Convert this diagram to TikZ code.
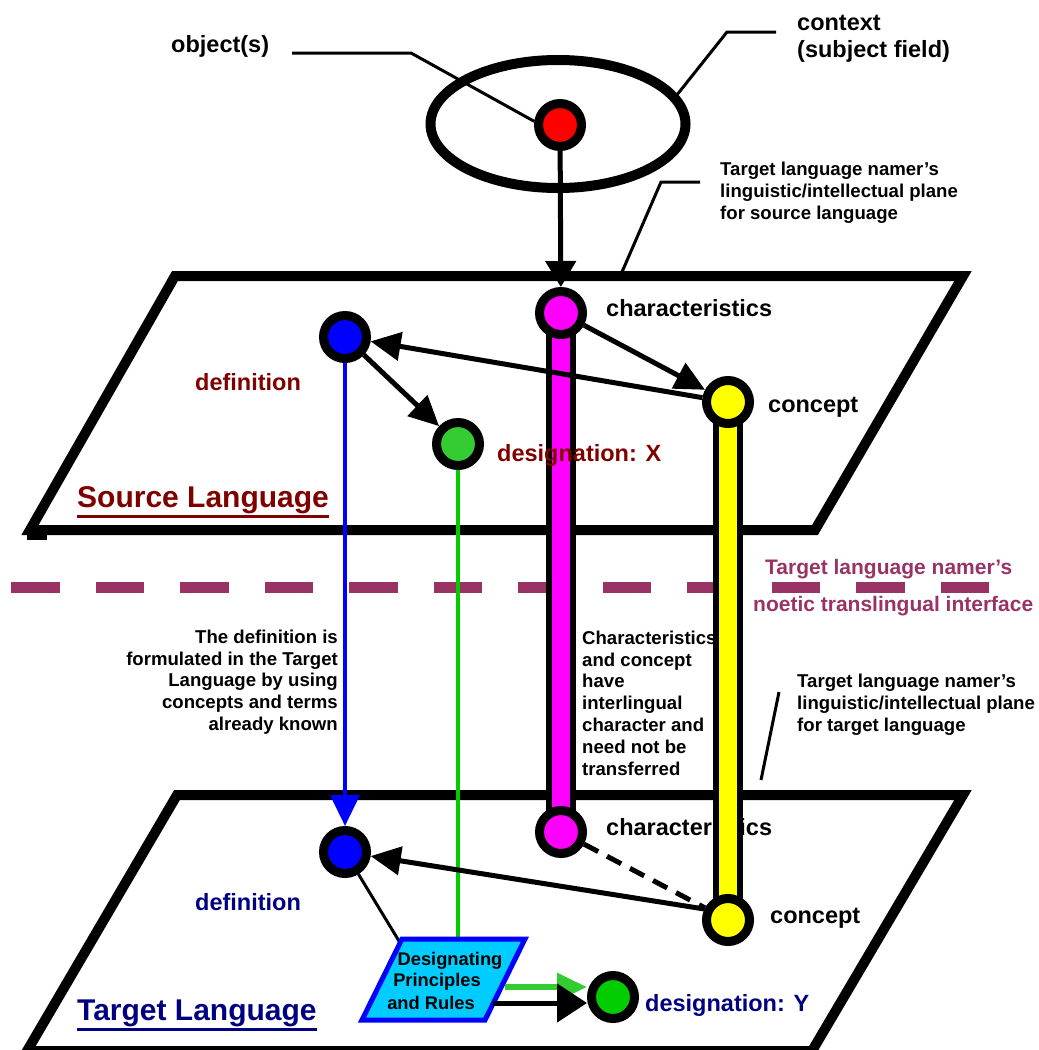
\documentclass[tikz,border=0pt]{standalone}
\usepackage{fontspec}
\setmainfont{Liberation Sans}
\usetikzlibrary{arrows.meta,shapes.geometric}
\pgfdeclarelayer{planes}
\pgfdeclarelayer{bars}
\pgfsetlayers{planes,bars,main}
\definecolor{dkred}{HTML}{800000}
\definecolor{navyc}{HTML}{000080}
\definecolor{purp}{HTML}{993366}
\definecolor{mag}{HTML}{FF00FF}
\definecolor{yel}{HTML}{FFFF00}
\definecolor{gnode}{HTML}{33CC33}
\definecolor{gline}{HTML}{00CC00}
\definecolor{cyanb}{HTML}{00CCFF}
\begin{document}
\begin{tikzpicture}[x=1pt,y=-1pt,
  dot/.style={circle, draw=black, line width=9pt, fill=#1, minimum size=43pt, inner sep=0pt, outer sep=4.5pt},
  plane/.style={draw=black, line width=10pt, line join=miter},
  lbl/.style={inner sep=0pt, font=\bfseries\fontsize{23.5}{28}\selectfont},
  biglbl/.style={inner sep=0pt, font=\bfseries\fontsize{30}{34}\selectfont},
  small/.style={inner sep=0pt, font=\bfseries\fontsize{18.6}{21.8}\selectfont},
  purplbl/.style={inner sep=0pt, text=purp, font=\bfseries\fontsize{21}{25}\selectfont},
  arr/.style={line width=5pt, -{Triangle[length=30pt,width=28pt]}},
  leader/.style={line width=3pt}
]
\useasboundingbox (0,0) rectangle (1039,1050);

% ---------- planes and labels ----------
\begin{pgfonlayer}{planes}
\draw[plane] (175,276) -- (963,276) -- (815,530) -- (30,530) -- cycle;
\fill (27,528) rectangle (47,540);
\draw[plane] (177,795) -- (963,795) -- (812,1051) -- (27,1051) -- cycle;

\node[lbl, anchor=west] (objl) at (171,46) {object(s)};
\node[lbl, anchor=west, align=left, font=\bfseries\fontsize{23.5}{27}\selectfont] (ctxl) at (797,39) {context\\(subject field)};
\node[small, anchor=west, align=left] (spl) at (720,193) {Target language namer’s\\linguistic/intellectual plane\\for source language};
\node[lbl, anchor=west] (chsl) at (606,308) {characteristics};
\node[lbl, anchor=west] (cpsl) at (768,407) {concept};
\node[lbl, anchor=west, text=dkred] (dfsl) at (195,382) {definition};
\node[biglbl, anchor=west, text=dkred] (srcl) at (77,500) {Source Language};
\draw[dkred, line width=3pt] ([yshift=-3pt]srcl.south west) -- ([yshift=-3pt]srcl.south east);

\node[purplbl, anchor=west] (tl1) at (765,569) {Target language namer’s};
\node[purplbl, anchor=west] (tl2) at (753,606) {noetic translingual interface};

\node[small, anchor=east, align=right] (defnote) at (338,682) {The definition is\\formulated in the Target\\Language by using\\concepts and terms\\already known};
\node[small, anchor=west, align=left] (charnote) at (582,703) {Characteristics\\and concept\\have\\interlingual\\character and\\need not be\\transferred};
\node[small, anchor=west, align=left] (tpl) at (797,705) {Target language namer’s\\linguistic/intellectual plane\\for target language};

\node[lbl, anchor=west] (chtl) at (606,827) {characteristics};
\node[lbl, anchor=west] (cptl) at (770,918) {concept};
\node[lbl, anchor=west, text=navyc] (dftl) at (195,902) {definition};
\node[biglbl, anchor=west, text=navyc] (tgtl) at (77,1013) {Target Language};
\draw[navyc, line width=3pt] ([yshift=-3pt]tgtl.south west) -- ([yshift=-3pt]tgtl.south east);
\node[lbl, anchor=west, text=navyc] (dstl) at (645,1005) {designation: Y};

% dashed interface
\coordinate (dl) at (11,587.5); \coordinate (dr) at (990,587.5);
\draw[purp, line width=11pt, dash pattern=on 48.5pt off 36pt] (dl) -- (dr);
\end{pgfonlayer}

% ---------- main nodes ----------
\node[draw, ellipse, line width=10pt, minimum width=255pt, minimum height=128pt, inner sep=0pt, outer sep=5pt] (ctx) at (558,124) {};
\node[dot=red] (obj) at (560,125) {};
\node[dot=mag] (chs) at (561,313) {};
\node[dot=yel] (cps) at (728,402) {};
\node[dot=blue] (dfs) at (345,337) {};
\node[dot=gnode] (dss) at (458,444) {};
\node[dot=mag] (cht) at (561,832) {};
\node[dot=yel] (cpt) at (728,920) {};
\node[dot=blue] (dft) at (345,852) {};
\node[dot=gline] (dst) at (613,997) {};

\node[lbl, anchor=west, text=dkred] (dssl) at (497,455) {designation: X};

% leaders
\coordinate (oa) at (292,53); \coordinate (ob) at (411,53);
\draw[leader] (oa) -- (ob) -- (obj.172);
\coordinate (ca) at (776,32); \coordinate (cb) at (727,32);
\draw[leader] (ca) -- (cb) -- (ctx.14);
\coordinate (sa) at (700,182); \coordinate (sb) at (661,182); \coordinate (sc) at (622,272);
\draw[leader] (sa) -- (sb) -- (sc);
\coordinate (ta) at (779,692); \coordinate (tb) at (761,780);
\draw[leader] (ta) -- (tb);

% arrows in source plane
\draw[line width=5pt, -{Triangle[length=26pt,width=30pt]}] (obj) -- (chs);
\draw[arr] (cps) -- (dfs);
\draw[arr] (dfs) -- (dss);
\draw[arr] (chs) -- (cps);

% vertical transfer lines
\draw[blue, line width=4pt, -{Triangle[length=31pt,width=29pt]}] (dfs) -- (dft);
\coordinate (boxtop) at (458,939);
\draw[gline, line width=4pt] (dss) -- (boxtop);

% target plane connectors
\draw[arr] (cpt.155) -- (dft);
\draw[line width=5pt, dash pattern=on 16pt off 10pt] (cht) -- (cpt);
\coordinate (boxtl) at (399,941);
\draw[line width=3pt] (dft) -- (boxtl);

% designating box
\coordinate (bxA) at (362,1020); \coordinate (bxB) at (402,939);
\coordinate (bxC) at (525,939); \coordinate (bxD) at (485,1020);
\draw[draw=blue, fill=cyanb, line width=5pt, line join=miter] (bxA) -- (bxB) -- (bxC) -- (bxD) -- cycle;
\node[small, font=\bfseries\fontsize{18.3}{21.5}\selectfont] (bx1) at (450,961) {Designating};
\node[small, font=\bfseries\fontsize{18.3}{21.5}\selectfont] (bx2) at (437,982) {Principles};
\node[small, font=\bfseries\fontsize{18.3}{21.5}\selectfont] (bx3) at (431,1003) {and Rules};

\coordinate (ga) at (505,987);
\draw[gnode, line width=6pt, -{Triangle[length=30pt,width=27pt]}] (ga) -- (ga -| dst.west);
\coordinate (ba) at (493,1003);
\draw[line width=5pt, -{Triangle[length=30pt,width=38pt]}] (ba) -- (ba -| dst.west);

% ---------- bars ----------
\begin{pgfonlayer}{bars}
\draw[line width=30pt] (chs.center) -- (cht.center);
\draw[mag, line width=18pt] (chs.center) -- (cht.center);
\draw[line width=30pt] (cps.center) -- (cpt.center);
\draw[yel, line width=18pt] (cps.center) -- (cpt.center);
\end{pgfonlayer}
\end{tikzpicture}
\end{document}
